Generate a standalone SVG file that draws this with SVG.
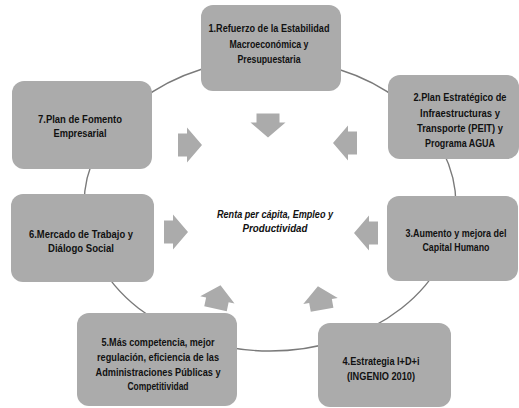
<svg xmlns="http://www.w3.org/2000/svg" width="519" height="408" viewBox="0 0 519 408">
<style>
.box{fill:#ababab;}
.t{font-family:"Liberation Sans Narrow","Liberation Sans",Arial,sans-serif;font-weight:bold;font-size:10.5px;fill:#111;text-anchor:middle;}
.c{font-family:"Liberation Sans Narrow","Liberation Sans",Arial,sans-serif;font-style:italic;font-weight:bold;font-size:10.5px;fill:#111;text-anchor:middle;}
.ring{fill:none;stroke:#7a7a7a;stroke-width:1.4;}
.arr{fill:#ababab;}
</style>
<defs>
<path id="arrow" d="M-12,-11.5 H-3 V-17.5 L12,0 L-3,17.5 V11.5 H-12 Z"/>
</defs>
<rect width="519" height="408" fill="#ffffff"/>
<g id="connectors">
<ellipse class="ring" cx="270" cy="205" rx="186" ry="146"/>
<use href="#arrow" class="arr" transform="translate(268,125.5) rotate(90)"/>
<use href="#arrow" class="arr" transform="translate(345,143) rotate(180)"/>
<use href="#arrow" class="arr" transform="translate(190,145)"/>
<use href="#arrow" class="arr" transform="translate(176,232)"/>
<use href="#arrow" class="arr" transform="translate(366,233) rotate(180)"/>
<use href="#arrow" class="arr" transform="translate(218,297) rotate(-78)"/>
<use href="#arrow" class="arr" transform="translate(320,298) rotate(-100)"/>
</g>
<g id="center">
<text class="c" x="275" y="218" textLength="116" lengthAdjust="spacingAndGlyphs">Renta per cápita, Empleo y</text>
<text class="c" x="275" y="232" textLength="65" lengthAdjust="spacingAndGlyphs">Productividad</text>
</g>
<g id="node1">
<rect class="box" x="201" y="5" width="140" height="86" rx="12"/>
<text class="t" x="269" y="32" textLength="121" lengthAdjust="spacingAndGlyphs">1.Refuerzo de la Estabilidad</text>
<text class="t" x="269" y="47.5" textLength="79" lengthAdjust="spacingAndGlyphs">Macroeconómica y</text>
<text class="t" x="269" y="63" textLength="63" lengthAdjust="spacingAndGlyphs">Presupuestaria</text>
</g>
<g id="node2">
<rect class="box" x="388" y="75" width="131" height="84" rx="12"/>
<text class="t" x="460" y="101" textLength="93" lengthAdjust="spacingAndGlyphs">2.Plan Estratégico de</text>
<text class="t" x="460" y="116.5" textLength="80" lengthAdjust="spacingAndGlyphs">Infraestructuras y</text>
<text class="t" x="460" y="132" textLength="86" lengthAdjust="spacingAndGlyphs">Transporte (PEIT) y</text>
<text class="t" x="460" y="147" textLength="70" lengthAdjust="spacingAndGlyphs">Programa AGUA</text>
</g>
<g id="node3">
<rect class="box" x="387" y="196" width="131" height="85" rx="12"/>
<text class="t" x="456" y="237" textLength="101" lengthAdjust="spacingAndGlyphs">3.Aumento y mejora del</text>
<text class="t" x="456" y="251" textLength="67" lengthAdjust="spacingAndGlyphs">Capital Humano</text>
</g>
<g id="node4">
<rect class="box" x="318" y="323" width="133" height="84" rx="12"/>
<text class="t" x="381" y="365" textLength="77" lengthAdjust="spacingAndGlyphs">4.Estrategia I+D+i</text>
<text class="t" x="381" y="380" textLength="68" lengthAdjust="spacingAndGlyphs">(INGENIO 2010)</text>
</g>
<g id="node5">
<rect class="box" x="77" y="313" width="160" height="93" rx="12"/>
<text class="t" x="158" y="346" textLength="113" lengthAdjust="spacingAndGlyphs">5.Más competencia, mejor</text>
<text class="t" x="158" y="361" textLength="122" lengthAdjust="spacingAndGlyphs">regulación, eficiencia de las</text>
<text class="t" x="158" y="376" textLength="125" lengthAdjust="spacingAndGlyphs">Administraciones Públicas y</text>
<text class="t" x="158" y="390" textLength="61" lengthAdjust="spacingAndGlyphs">Competitividad</text>
</g>
<g id="node6">
<rect class="box" x="11" y="194" width="143" height="88" rx="12"/>
<text class="t" x="81" y="238" textLength="104" lengthAdjust="spacingAndGlyphs">6.Mercado de Trabajo y</text>
<text class="t" x="81" y="251.5" textLength="66" lengthAdjust="spacingAndGlyphs">Diálogo Social</text>
</g>
<g id="node7">
<rect class="box" x="12" y="81" width="140" height="88" rx="12"/>
<text class="t" x="80" y="123" textLength="84" lengthAdjust="spacingAndGlyphs">7.Plan de Fomento</text>
<text class="t" x="80" y="137" textLength="53" lengthAdjust="spacingAndGlyphs">Empresarial</text>
</g>
</svg>
